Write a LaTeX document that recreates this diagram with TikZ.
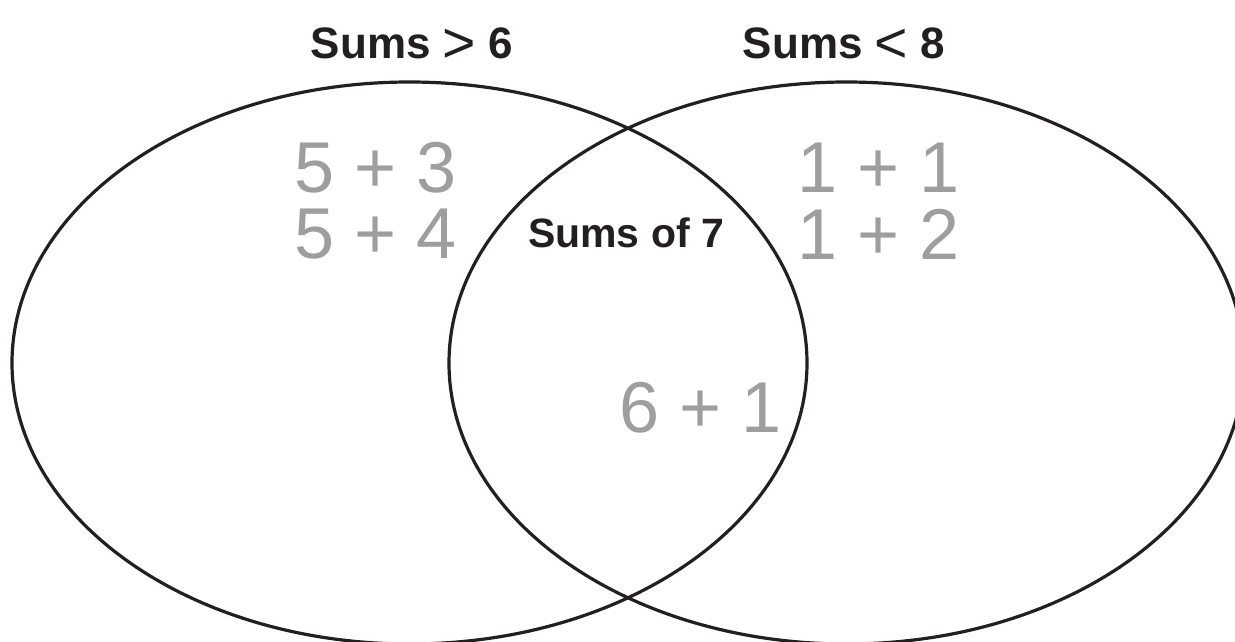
\documentclass[tikz,border=0pt]{standalone}
\usepackage{fontspec}
\setmainfont{Liberation Sans}
\usetikzlibrary{shapes.geometric}
\definecolor{ink}{RGB}{35,31,32}
\definecolor{stencil}{RGB}{158,158,158}
\tikzset{
  setring/.style={ellipse, draw=ink, line width=3.2pt, inner sep=0pt, outer sep=0pt,
    minimum width=795pt, minimum height=562pt},
  title/.style={font=\fontsize{44}{48}\selectfont\bfseries, text=ink, anchor=base, inner sep=0pt},
  inner/.style={font=\fontsize{41}{45}\selectfont\bfseries, text=ink, anchor=base, inner sep=0pt},
  pair/.style={font=\fontsize{72}{76}\selectfont, text=stencil, anchor=base, inner sep=0pt}
}
\newcommand{\rel}[1]{\raisebox{-0.1em}{\scalebox{1.3}{\fontseries{m}\selectfont #1}}}
\begin{document}
\begin{tikzpicture}[x=1pt,y=-1pt]
\useasboundingbox (0,0) rectangle (1235,641);
\node[setring] (L) at (409.5,363) {};
\node[setring] (R) at (846.5,363) {};
\node[title] (tL) at (412,58) {Sums \rel{>} 6};
\node[title] (tR) at (844,58) {Sums \rel{<} 8};
\node[inner] (mid) at (626,247) {Sums of 7};
\node[pair] (a1) at (376,192) {5 + 3};
\node[pair] (a2) at (376,258) {5 + 4};
\node[pair] (b1) at (879,192) {1 + 1};
\node[pair] (b2) at (879,259) {1 + 2};
\node[pair] (c1) at (701,432) {6 + 1};
\end{tikzpicture}
\end{document}
